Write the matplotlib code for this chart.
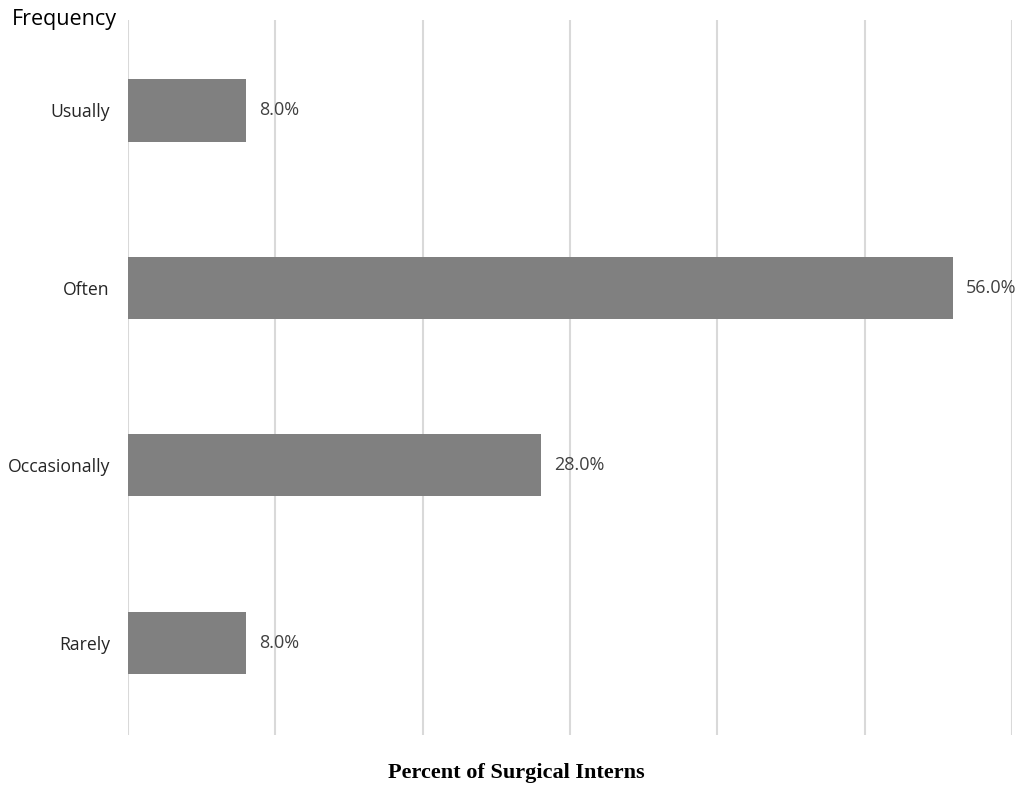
import matplotlib.pyplot as plt

# data (bottom to top)
categories = ["Rarely", "Occasionally", "Often", "Usually"]
percents = [8.0, 28.0, 56.0, 8.0]
x_ticks = [0, 10, 20, 30, 40, 50, 60]

plt.rcParams['font.family'] = ['Open Sans', 'DejaVu Sans']

fig = plt.figure(figsize=(10.21, 7.87), dpi=100)
ax = fig.add_axes([128 / 1021, 1 - 735 / 787, (1012 - 128) / 1021, (735 - 20) / 787])

ypos = list(range(len(categories)))
bars = ax.barh(ypos, percents, height=0.35, color='#808080', zorder=2)

for y, v in zip(ypos, percents):
    ax.annotate(f"{v:.1f}%", xy=(v, y), xytext=(9.5, 0), textcoords='offset points',
                ha='left', va='center', fontsize=13, color='#404040')

ax.set_xlim(0, 60)
ax.set_ylim(-0.52, 3.51)
ax.set_xticks(x_ticks)
ax.set_xticklabels([])
ax.set_yticks(ypos)
ax.set_yticklabels(categories, fontsize=12.7, color='#262626')
ax.tick_params(axis='both', length=0)
ax.tick_params(axis='y', pad=13)
ax.grid(axis='x', color='#d9d9d9', linewidth=1.5, zorder=0)
ax.set_axisbelow(True)
for s in ax.spines.values():
    s.set_visible(False)

fig.text(12 / 1021, 1 - 20 / 787, "Frequency", fontsize=15.5, color='black',
         ha='left', va='center')
fig.text(516 / 1021, 1 - 773 / 787, "Percent of Surgical Interns", fontsize=16,
         fontweight='bold', family=['Liberation Serif', 'DejaVu Serif'],
         ha='center', va='center', color='black')

fig.savefig('out.png', dpi=100)
